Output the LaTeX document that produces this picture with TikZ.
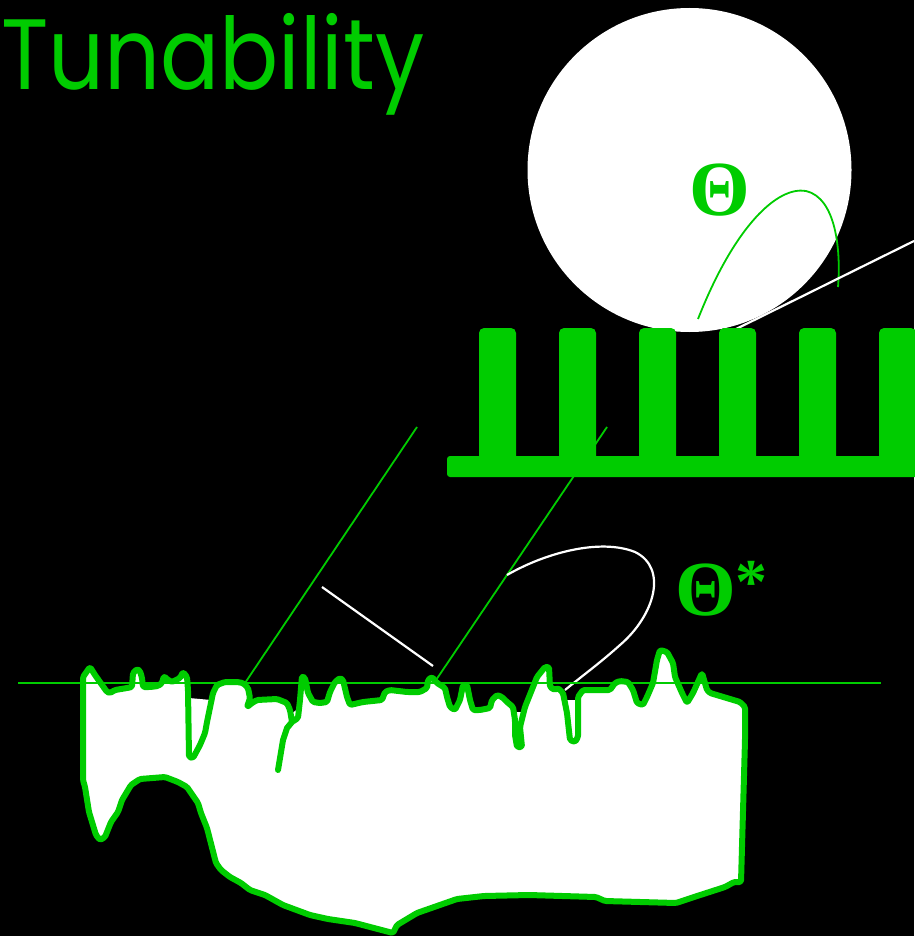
\documentclass[tikz,border=0pt]{standalone}
\usepackage{fontspec}
\newfontfamily\titlefont{Poppins}
\newfontfamily\greekfont{Liberation Serif}
\definecolor{leaf}{RGB}{0,204,0}
\begin{document}
\begin{tikzpicture}[x=1pt,y=-1pt,
  thinleaf/.style={draw=leaf,line width=1.8pt},
  thinwhite/.style={draw=white,line width=2.2pt},
  rim/.style={draw=leaf,line width=6pt,line join=round,line cap=round},
  greek/.style={text=leaf,inner sep=0pt,font=\greekfont\bfseries\fontsize{78}{80}\selectfont}]
% canvas
\fill[black] (0,0) rectangle (914,936);
\useasboundingbox (0,0) rectangle (914,936);

% title
\node[anchor=base west,inner sep=0pt,text=leaf,font=\titlefont\fontsize{100}{100}\selectfont] (title) at (1,90) {\scalebox{0.875}[1]{Tunability}};

% droplet resting on the pillars
\fill[white] (689.5,170) circle (162pt);
\node[greek] (theta) at (720,190) {Θ};
\draw[thinleaf] (698,319) .. controls (735,225) and (778,186) .. (806,191)
                          .. controls (836,198) and (841,250) .. (838,287);
\coordinate (tanA) at (728,333);
\coordinate (tanB) at (914,241);
\draw[thinwhite] (tanA) -- (tanB);

% inclined guide lines (behind the pillars)
\coordinate (gA1) at (417,427);
\coordinate (gA2) at (245,683);
\coordinate (gB1) at (607,427);
\coordinate (gB2) at (434,683);
\draw[thinleaf] (gA1) -- (gA2);
\draw[thinleaf] (gB1) -- (gB2);

% pillar array
\fill[leaf,rounded corners=3pt] (447,456) rectangle (930,477);
\foreach \px in {479,559,639,719,799,879}{
  \fill[leaf,rounded corners=5pt] (\px,462) -- (\px,328) -- (\px+37,328) -- (\px+37,462) -- cycle;
}

% white markers near the rough surface
\coordinate (wA) at (322,587);
\coordinate (wB) at (433,666);
\draw[thinwhite] (wA) -- (wB);
\draw[thinwhite] (507,575) .. controls (545,553) and (600,538) .. (635,552)
                           .. controls (668,568) and (655,615) .. (620,645)
                           .. controls (600,663) and (582,676) .. (565,690);
\node[greek,anchor=base west] (thetastar) at (675,615) {Θ{\fontsize{64}{66}\selectfont\raisebox{12pt}{*}}};

% rough surface: crack interiors, then body and rim
\fill[white] (189,698) -- (189,757) -- (193,758) -- (200,745) -- (205,733) -- (207,722) -- (211,700) -- cycle;
\fill[white] (291,714) -- (292,722) -- (295,720) -- (298,718) -- (299,708) -- cycle;
\fill[white] (514,712) -- (515,720) -- (515,735) -- (517,747) -- (522,747) -- (520,727) -- (523,712) -- cycle;
\fill[white] (566,700) -- (567,713) -- (570,740) -- (575,742) -- (578,737) -- (578,700) -- cycle;
\path[fill=white,rim,rounded corners=1.5pt]
  (90,667) -- (95,675) -- (107,692) -- (110,693) -- (115,690) -- (127,688) -- (132,687)
  -- (133,673) -- (137,669) -- (140,671) -- (142,678) -- (143,687) -- (150,687) -- (158,686)
  -- (162,683) -- (164,676) -- (168,680) -- (172,682) -- (176,680) -- (180,678) -- (183,672)
  -- (187,677) -- (188,690) -- (189,757) -- (193,758) -- (200,745) -- (205,733) -- (207,722)
  -- (213,693) -- (217,685) -- (225,682) -- (237,682) -- (243,683) -- (248,688) -- (250,698)
  -- (247,707) -- (252,703) -- (257,700) -- (277,699) -- (287,703) -- (290,710) -- (292,722)
  -- (295,720) -- (298,718) -- (300,700) -- (302,676) -- (305,678) -- (308,693) -- (313,702)
  -- (320,703) -- (327,702) -- (330,692) -- (335,682) -- (340,678) -- (343,680) -- (347,697)
  -- (350,705) -- (363,702) -- (382,700) -- (385,692) -- (390,690) -- (407,692) -- (420,692)
  -- (427,688) -- (428,680) -- (432,677) -- (437,683) -- (445,688) -- (447,697) -- (450,707)
  -- (455,710) -- (460,700) -- (463,685) -- (467,685) -- (470,700) -- (473,710) -- (480,710)
  -- (490,708) -- (492,700) -- (497,695) -- (502,697) -- (507,702) -- (513,707) -- (515,720)
  -- (515,735) -- (517,747) -- (522,747) -- (520,727) -- (525,707) -- (537,677) -- (545,667)
  -- (549,667) -- (550,687) -- (555,690) -- (558,688) -- (563,693) -- (567,713) -- (570,740)
  -- (575,742) -- (578,737) -- (578,697) -- (583,690) -- (610,690) -- (615,683) -- (620,681)
  -- (628,682) -- (633,690) -- (637,703) -- (643,705) -- (647,697) -- (653,683) -- (657,660)
  -- (660,650) -- (667,652) -- (673,663) -- (675,677) -- (682,693) -- (687,703) -- (693,693)
  -- (702,673) -- (707,690) -- (710,693) -- (740,702) -- (745,707) -- (745,740) -- (741,882)
  -- (734,882) -- (725,887) -- (694,897) -- (676,903) -- (605,901) -- (596,897) -- (529,895)
  -- (484,896) -- (457,899) -- (417,913) -- (397,925) -- (393,933) -- (355,923) -- (328,919)
  -- (310,915) -- (283,905) -- (265,895) -- (250,890) -- (241,883) -- (230,877) -- (221,870)
  -- (216,863) -- (207,828) -- (201,813) -- (198,803) -- (187,787) -- (178,782) -- (165,777)
  -- (140,779) -- (131,785) -- (122,800) -- (118,812) -- (111,822) -- (105,837) -- (100,840)
  -- (96,835) -- (89,812) -- (85,787) -- (83,780) -- (83,677) -- cycle;
\draw[rim] (292,722) -- (287,728) -- (283,740) -- (278,770);

% reference plane
\coordinate (planeL) at (18,683);
\coordinate (planeR) at (881,683);
\draw[thinleaf] (planeL) -- (planeR);
\end{tikzpicture}
\end{document}
